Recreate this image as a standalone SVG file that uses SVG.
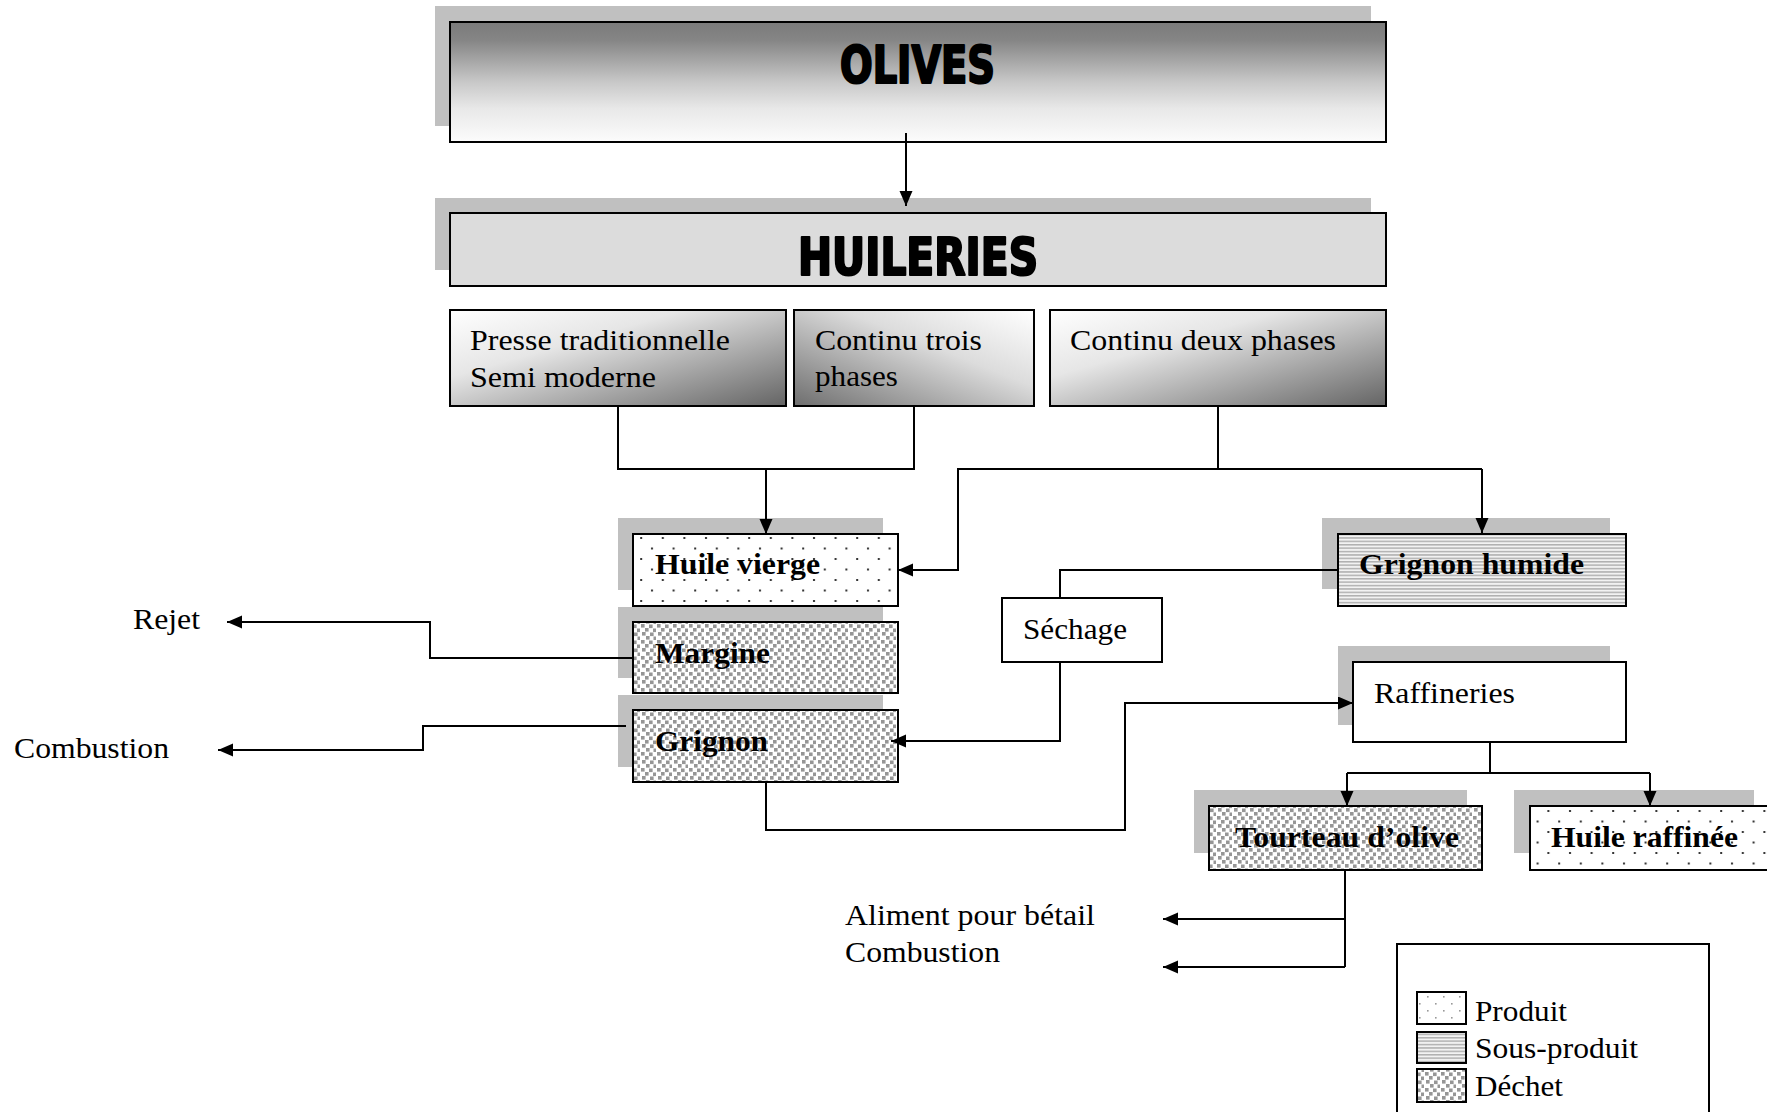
<svg xmlns="http://www.w3.org/2000/svg" width="1767" height="1112" viewBox="0 0 1767 1112">
  <style>
    .box { stroke: #000; stroke-width: 2; }
    .shadow { fill: #c0c0c0; }
    .title { font-family: "DejaVu Sans Condensed", "DejaVu Sans", "Liberation Sans", sans-serif; font-weight: bold; font-size: 51px; fill: #000; stroke: #000; stroke-width: 2.2; stroke-linejoin: round; }
    .t { font-family: "Liberation Serif", "Times New Roman", serif; font-size: 29px; fill: #000; }
    .b { font-weight: bold; }
    .wire { fill: none; stroke: #000; stroke-width: 2; }
  </style>
  <defs>
    <linearGradient id="gOlives" x1="0" y1="0" x2="0" y2="1">
      <stop offset="0" stop-color="#7b7b7b"/>
      <stop offset="0.15" stop-color="#858585"/>
      <stop offset="0.5" stop-color="#c8c8c8"/>
      <stop offset="0.72" stop-color="#e8e8e8"/>
      <stop offset="1" stop-color="#fcfcfc"/>
    </linearGradient>
    <linearGradient id="gDiagDown" x1="0" y1="0" x2="1" y2="1">
      <stop offset="0" stop-color="#ffffff"/>
      <stop offset="0.35" stop-color="#e6e6e6"/>
      <stop offset="1" stop-color="#646464"/>
    </linearGradient>
    <linearGradient id="gDiagUp" x1="1" y1="0" x2="0" y2="1">
      <stop offset="0" stop-color="#ffffff"/>
      <stop offset="0.4" stop-color="#dcdcdc"/>
      <stop offset="1" stop-color="#6e6e6e"/>
    </linearGradient>
    <!-- product fill: sparse staggered dots -->
    <pattern id="pDots" patternUnits="userSpaceOnUse" width="21.6" height="21">
      <rect width="21.6" height="21" fill="#fff"/>
      <rect x="3" y="1.5" width="2" height="2" fill="#333"/>
      <rect x="13.8" y="12" width="2" height="2" fill="#333"/>
    </pattern>
    <pattern id="pDotsLight" patternUnits="userSpaceOnUse" width="16" height="14">
      <rect width="16" height="14" fill="#fff"/>
      <rect x="3" y="2" width="1.6" height="1.6" fill="#999"/>
      <rect x="11" y="9" width="1.6" height="1.6" fill="#999"/>
    </pattern>
    <!-- by-product fill: horizontal stripes -->
    <pattern id="pStripes" patternUnits="userSpaceOnUse" width="4" height="3.4">
      <rect width="4" height="3.4" fill="#f2f2f2"/>
      <rect y="0" width="4" height="1.5" fill="#b0b0b0"/>
    </pattern>
    <!-- waste fill: staggered grey squares on white -->
    <pattern id="pWaste" patternUnits="userSpaceOnUse" width="16" height="16">
      <rect width="16" height="16" fill="#fff"/>
      <g fill="#969696">
        <rect x="1" y="0" width="3.6" height="3.6"/>
        <rect x="9" y="0.5" width="3.6" height="3.6"/>
        <rect x="5" y="4" width="3.6" height="3.6"/>
        <rect x="13" y="4.5" width="3" height="3.6"/>
        <rect x="2" y="8" width="3.6" height="3.6"/>
        <rect x="10" y="8.5" width="3.6" height="3.6"/>
        <rect x="6" y="12" width="3.6" height="3.6"/>
        <rect x="13.5" y="12.5" width="2.5" height="3.5"/>
      </g>
    </pattern>
    <marker id="arr" markerUnits="userSpaceOnUse" markerWidth="16" markerHeight="14" refX="15" refY="6.5" orient="auto">
      <path d="M0,0 L15,6.5 L0,13 z" fill="#000"/>
    </marker>
  </defs>

  <rect width="1767" height="1112" fill="#fff"/>

  <g id="olives">
    <rect class="shadow" x="435" y="6" width="936" height="120"/>
    <rect class="box" x="450" y="22" width="936" height="120" fill="url(#gOlives)"/>
    <text class="title" x="840" y="83" textLength="155" lengthAdjust="spacingAndGlyphs">OLIVES</text>
  </g>

  <g id="huileries">
    <rect class="shadow" x="435" y="198" width="936" height="72"/>
    <rect class="box" x="450" y="213" width="936" height="73" fill="#dcdcdc"/>
    <text class="title" x="798" y="275" textLength="240" lengthAdjust="spacingAndGlyphs">HUILERIES</text>
  </g>

  <g id="presse">
    <rect class="box" x="450" y="310" width="336" height="96" fill="url(#gDiagDown)"/>
    <text class="t" x="470" y="350" textLength="260" lengthAdjust="spacingAndGlyphs">Presse traditionnelle</text>
    <text class="t" x="470" y="387" textLength="186" lengthAdjust="spacingAndGlyphs">Semi moderne</text>
  </g>

  <g id="trois-phases">
    <rect class="box" x="794" y="310" width="240" height="96" fill="url(#gDiagUp)"/>
    <text class="t" x="815" y="350" textLength="167" lengthAdjust="spacingAndGlyphs">Continu trois</text>
    <text class="t" x="815" y="386" textLength="83" lengthAdjust="spacingAndGlyphs">phases</text>
  </g>

  <g id="deux-phases">
    <rect class="box" x="1050" y="310" width="336" height="96" fill="url(#gDiagDown)"/>
    <text class="t" x="1070" y="350" textLength="266" lengthAdjust="spacingAndGlyphs">Continu deux phases</text>
  </g>

  <g id="huile-vierge">
    <rect class="shadow" x="618" y="518" width="265" height="72"/>
    <rect class="box" x="633" y="534" width="265" height="72" fill="url(#pDots)"/>
    <text class="t b" x="655" y="574" textLength="165" lengthAdjust="spacingAndGlyphs">Huile vierge</text>
  </g>

  <g id="margine">
    <rect class="shadow" x="618" y="607" width="265" height="71"/>
    <rect class="box" x="633" y="622" width="265" height="71" fill="url(#pWaste)"/>
    <text class="t b" x="655" y="663" textLength="115" lengthAdjust="spacingAndGlyphs">Margine</text>
  </g>

  <g id="grignon">
    <rect class="shadow" x="618" y="695" width="265" height="72"/>
    <rect class="box" x="633" y="710" width="265" height="72" fill="url(#pWaste)"/>
    <text class="t b" x="655" y="751" textLength="113" lengthAdjust="spacingAndGlyphs">Grignon</text>
  </g>

  <g id="grignon-humide">
    <rect class="shadow" x="1322" y="518" width="288" height="71"/>
    <rect class="box" x="1338" y="534" width="288" height="72" fill="url(#pStripes)"/>
    <text class="t b" x="1359" y="574" textLength="225" lengthAdjust="spacingAndGlyphs">Grignon humide</text>
  </g>

  <g id="sechage">
    <rect class="box" x="1002" y="598" width="160" height="64" fill="#fff"/>
    <text class="t" x="1023" y="639" textLength="104" lengthAdjust="spacingAndGlyphs">Séchage</text>
  </g>

  <g id="raffineries">
    <rect class="shadow" x="1338" y="646" width="272" height="79"/>
    <rect class="box" x="1353" y="662" width="273" height="80" fill="#fff"/>
    <text class="t" x="1374" y="703" textLength="141" lengthAdjust="spacingAndGlyphs">Raffineries</text>
  </g>

  <g id="tourteau">
    <rect class="shadow" x="1194" y="790" width="273" height="63"/>
    <rect class="box" x="1209" y="806" width="273" height="64" fill="url(#pWaste)"/>
    <text class="t b" x="1235" y="847" textLength="224" lengthAdjust="spacingAndGlyphs">Tourteau d’olive</text>
  </g>

  <g id="huile-raffinee">
    <rect class="shadow" x="1514" y="790" width="240" height="63"/>
    <rect class="box" x="1530" y="806" width="240" height="64" fill="url(#pDots)"/>
    <text class="t b" x="1551" y="847" textLength="187" lengthAdjust="spacingAndGlyphs">Huile raffinée</text>
  </g>

  <g id="outlets">
    <text class="t" x="133" y="629" textLength="67" lengthAdjust="spacingAndGlyphs">Rejet</text>
    <text class="t" x="14" y="758" textLength="155" lengthAdjust="spacingAndGlyphs">Combustion</text>
    <text class="t" x="845" y="925" textLength="250" lengthAdjust="spacingAndGlyphs">Aliment pour bétail</text>
    <text class="t" x="845" y="962" textLength="155" lengthAdjust="spacingAndGlyphs">Combustion</text>
  </g>

  <g id="legend">
    <rect class="box" x="1397" y="944" width="312" height="180" fill="#fff"/>
    <rect x="1417" y="992" width="49" height="32" fill="url(#pDotsLight)" stroke="#000" stroke-width="2"/>
    <rect x="1417" y="1032" width="49" height="31" fill="url(#pStripes)" stroke="#000" stroke-width="2"/>
    <rect x="1417" y="1069" width="49" height="33" fill="url(#pWaste)" stroke="#000" stroke-width="2"/>
    <text class="t" x="1475" y="1021" textLength="92" lengthAdjust="spacingAndGlyphs">Produit</text>
    <text class="t" x="1475" y="1058" textLength="163" lengthAdjust="spacingAndGlyphs">Sous-produit</text>
    <text class="t" x="1475" y="1096" textLength="88" lengthAdjust="spacingAndGlyphs">Déchet</text>
  </g>

  <g id="connectors">
    <path class="wire" d="M906,133 V206" marker-end="url(#arr)"/>
    <path class="wire" d="M618,406 V469 H914 V406"/>
    <path class="wire" d="M766,469 V534" marker-end="url(#arr)"/>
    <path class="wire" d="M1218,406 V469"/>
    <path class="wire" d="M1482,469 H958 V570 H898" marker-end="url(#arr)"/>
    <path class="wire" d="M1482,469 V533" marker-end="url(#arr)"/>
    <path class="wire" d="M1338,570 H1060 V598"/>
    <path class="wire" d="M1060,662 V741 H891" marker-end="url(#arr)"/>
    <path class="wire" d="M633,658 H430 V622 H227" marker-end="url(#arr)"/>
    <path class="wire" d="M626,726 H423 V750 H218" marker-end="url(#arr)"/>
    <path class="wire" d="M766,782 V830 H1125 V703 H1353" marker-end="url(#arr)"/>
    <path class="wire" d="M1490,742 V773"/>
    <path class="wire" d="M1347,773 H1650"/>
    <path class="wire" d="M1347,773 V806" marker-end="url(#arr)"/>
    <path class="wire" d="M1650,773 V806" marker-end="url(#arr)"/>
    <path class="wire" d="M1345,870 V967"/>
    <path class="wire" d="M1345,919 H1163" marker-end="url(#arr)"/>
    <path class="wire" d="M1345,967 H1163" marker-end="url(#arr)"/>
  </g>
</svg>
